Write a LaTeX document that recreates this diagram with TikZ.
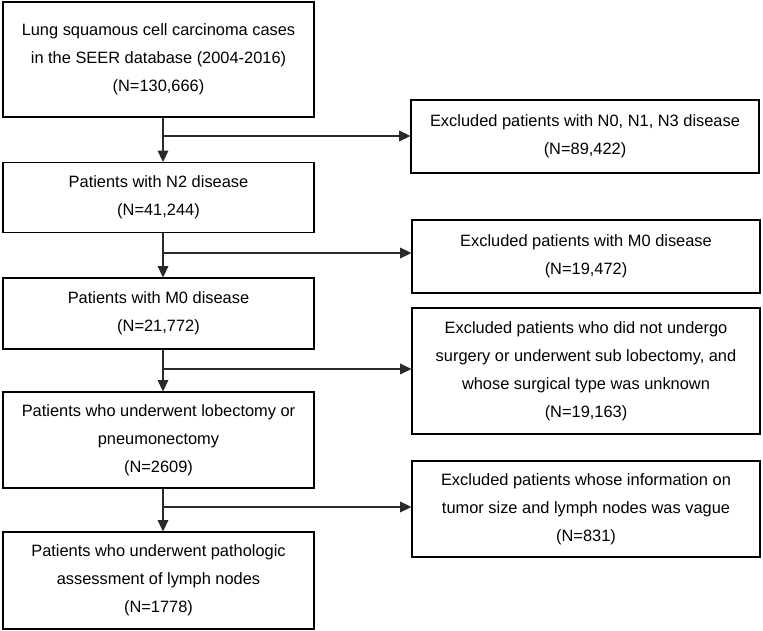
\documentclass[tikz,border=0pt]{standalone}
\usepackage{fontspec}
\setmainfont{Liberation Sans}
\usetikzlibrary{arrows.meta}
\definecolor{conncol}{HTML}{2A2A2A}
\tikzset{
  box/.style={draw=black, line width=1.4pt, align=center, inner sep=2pt,
    font=\fontsize{12.3}{21}\selectfont, text=black},
  conn/.style={draw=conncol, line width=0.8pt},
  arr/.style={conn, -{Triangle[length=8.5pt,width=8pt]}, shorten >=-0.3pt}
}
\begin{document}
\begin{tikzpicture}[x=0.75pt,y=-0.75pt]
\useasboundingbox (0,0) rectangle (763,631);
% left column
\node[box, minimum width=233.25pt, minimum height=86.25pt] (b1) at (158.5,59.5)
  {Lung squamous cell carcinoma cases\\in the SEER database (2004-2016)\\(N=130,666)};
\node[box, minimum width=233.25pt, minimum height=52.5pt] (b2) at (158.5,197.5)
  {Patients with N2 disease\\(N=41,244)};
\node[box, minimum width=233.25pt, minimum height=53.25pt] (b3) at (158.5,313.5)
  {Patients with M0 disease\\(N=21,772)};
\node[box, minimum width=233.25pt, minimum height=72pt] (b4) at (158.5,440)
  {Patients who underwent lobectomy or\\pneumonectomy\\(N=2609)};
\node[box, minimum width=233.25pt, minimum height=72.75pt] (b5) at (158.5,580.5)
  {Patients who underwent pathologic\\assessment of lymph nodes\\(N=1778)};
% right column
\node[box, minimum width=261pt, minimum height=54.75pt] (r1) at (585,136.5)
  {Excluded patients with N0, N1, N3 disease\\(N=89,422)};
\node[box, minimum width=261pt, minimum height=54.75pt] (r2) at (586,256.5)
  {Excluded patients with M0 disease\\(N=19,472)};
\node[box, minimum width=261pt, minimum height=94.5pt] (r3) at (586,371)
  {Excluded patients who did not undergo\\surgery or underwent sub lobectomy, and\\whose surgical type was unknown\\(N=19,163)};
\node[box, minimum width=261pt, minimum height=72pt] (r4) at (586,509)
  {Excluded patients whose information on\\tumor size and lymph nodes was vague\\(N=831)};
% connectors
\coordinate (v) at (163,0);
\coordinate (j1) at (163,136);
\coordinate (j2) at (163,253);
\coordinate (j3) at (163,369);
\coordinate (j4) at (163,507);
\draw[arr] (b1.south -| v) -- (b2.north -| v);
\draw[arr] (b2.south -| v) -- (b3.north -| v);
\draw[arr] (b3.south -| v) -- (b4.north -| v);
\draw[arr] (b4.south -| v) -- (b5.north -| v);
\draw[arr] (j1) -- (j1 -| r1.west);
\draw[arr] (j2) -- (j2 -| r2.west);
\draw[arr] (j3) -- (j3 -| r3.west);
\draw[arr] (j4) -- (j4 -| r4.west);
\end{tikzpicture}
\end{document}
